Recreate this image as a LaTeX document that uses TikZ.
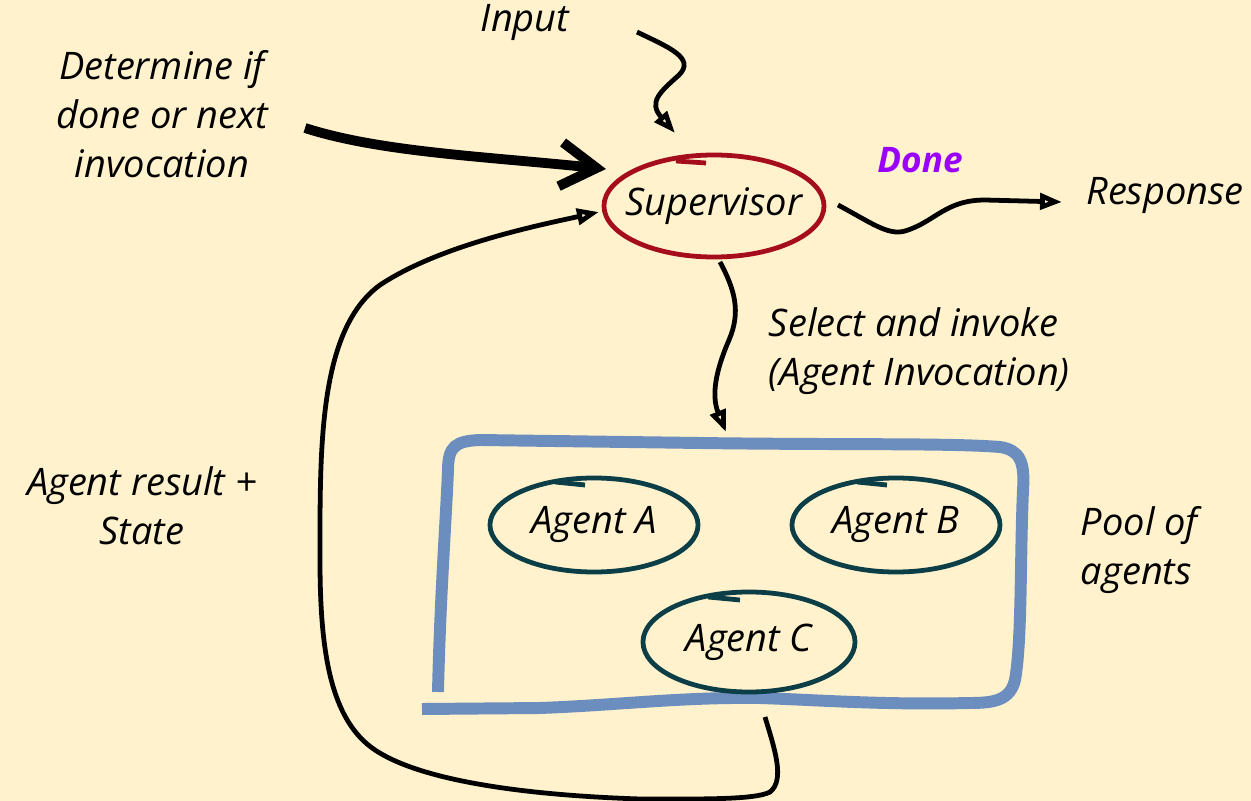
\documentclass[tikz,border=0pt]{standalone}
\usepackage{fontspec}
\setmainfont{Open Sans}
\usetikzlibrary{arrows.meta,shapes.geometric,positioning}
\definecolor{paper}{HTML}{FFF2CC}
\definecolor{supred}{RGB}{165,12,28}
\definecolor{agentteal}{RGB}{12,62,72}
\definecolor{poolblue}{HTML}{6C8EBF}
\definecolor{donepurple}{HTML}{9900FF}
\tikzset{
  txt/.style={font=\itshape\fontsize{27}{35}\selectfont, align=center},
  agent/.style={ellipse, draw=agentteal, line width=3.4pt},
  flow/.style={line width=3.4pt, -{Triangle[open,length=5.5mm,width=4mm]}},
}

\begin{document}
\begin{tikzpicture}[x=0.025cm,y=-0.025cm]
	\fill[paper] (0,0) rectangle (1251,801);
	\useasboundingbox (0,0) rectangle (1251,801);
	% labels
	\node[txt] (input) at (525,22){Input};
	\node[txt] (decide) at (162,114){Determine if\\done or next\\invocation};
	\node[txt, font=\bfseries\itshape\fontsize{25}{35}\selectfont, text=donepurple] (done) at (920,160){Done};
	\node[txt] (resp) at (1165,195){Response};
	\node[txt, align=left, anchor=west] (select) at (764,351){Select and invoke\\(Agent Invocation)};
	\node[txt, align=left, anchor=west] (poolname) at (1076,550){Pool of\\agents};
	\node[txt] (result) at (142,506){Agent result +\\State};
	% supervisor
	\node[ellipse, draw=supred, line width=3.4pt, minimum width=5.5cm, minimum height=2.55cm,
		label={[txt]center:Supervisor}] (sup) at (714,206){};
	\draw[supred, line width=3.4pt] (676,161) -- (706,163);
	% pool of agents
	\draw[poolblue, line width=8.5pt] (438,692) .. controls (440,600) and (446,520) .. (448,470)
		.. controls (448,446) and (456,441) .. (480,440) -- (700,443)
		.. controls (850,445) and (950,443) .. (1000,447)
		.. controls (1020,450) and (1025,462) .. (1023,490)
		.. controls (1020,560) and (1022,640) .. (1015,680)
		.. controls (1010,700) and (995,703) .. (970,703)
		.. controls (880,705) and (820,700) .. (760,698)
		.. controls (680,697) and (620,705) .. (540,708) -- (422,709);
	\node[agent, minimum width=5.2cm, minimum height=2.35cm, label={[txt]center:Agent A}] (agA) at (594,525){};
	\node[agent, minimum width=5.2cm, minimum height=2.35cm, label={[txt]center:Agent B}] (agB) at (896,525){};
	\node[agent, minimum width=5.3cm, minimum height=2.5cm, label={[txt]center:Agent C}] (agC) at (749,642){};
	\draw[agentteal, line width=3.4pt] (555,482) -- (585,485);
	\draw[agentteal, line width=3.4pt] (857,482) -- (887,485);
	\draw[agentteal, line width=3.4pt] (708,597) -- (740,600);
	% arrows
	\coordinate (inS) at (637,32);
	\coordinate (inE) at (675,133);
	\draw[flow] (inS) .. controls (668,47) and (696,58) .. (679,75)
		.. controls (660,92) and (648,102) .. (inE);
	\coordinate (decS) at (305,128);
	\coordinate (decE) at (606,169);
	\draw[line width=7pt, -{Straight Barb[length=9mm,width=11mm,line width=7pt]}] (decS) .. controls (380,152) and (480,156) .. (decE);
	\coordinate (doneS) at (838,205);
	\coordinate (doneE) at (1062,202);
	\draw[flow] (doneS) .. controls (870,222) and (888,236) .. (905,231)
		.. controls (935,222) and (945,200) .. (985,200) -- (doneE);
	\coordinate (selS) at (720,262);
	\coordinate (selE) at (726,432);
	\draw[flow] (selS) .. controls (735,290) and (741,312) .. (729,340)
		.. controls (716,370) and (711,395) .. (selE);
	\coordinate (retS) at (765,717);
	\coordinate (retE) at (599,212);
	\draw[flow] (retS) .. controls (775,750) and (785,780) .. (770,792)
		.. controls (755,800) and (700,799) .. (640,799)
		.. controls (520,795) and (420,780) .. (375,750)
		.. controls (330,720) and (320,650) .. (320,560)
		.. controls (320,450) and (318,330) .. (380,285)
		.. controls (440,245) and (540,225) .. (retE);
\end{tikzpicture}
\end{document}
